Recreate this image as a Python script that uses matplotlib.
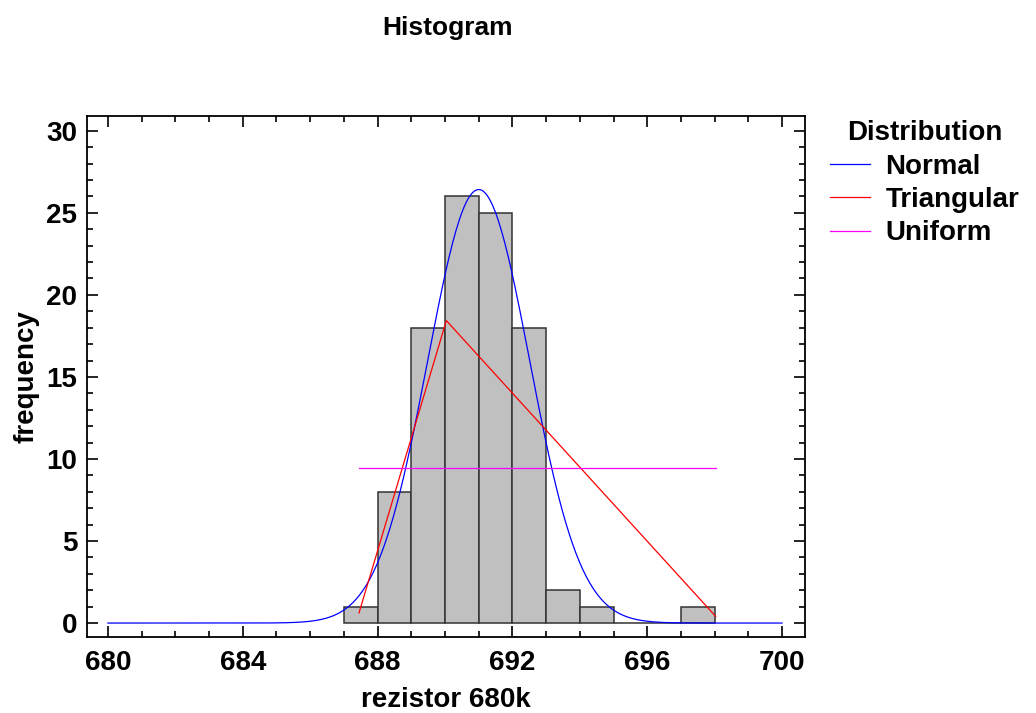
import numpy as np
import matplotlib.pyplot as plt
from matplotlib.ticker import MultipleLocator

plt.rcParams['font.family'] = ['Liberation Sans', 'DejaVu Sans']
plt.rcParams['font.weight'] = 'bold'

# histogram counts, bin width 1
bin_left = [687, 688, 689, 690, 691, 692, 693, 694, 695, 696, 697]
counts = [1, 8, 18, 26, 25, 18, 2, 1, 0, 0, 1]
n_total = sum(counts)

# fitted distributions
norm_mean, norm_sd = 691.0, 1.51
tri_a, tri_c, tri_b = 687.36, 690.04, 698.21
data_min, data_max = 687.45, 698.03

# Normal curve across whole axis
xn = np.linspace(680, 700, 400)
yn = n_total / (norm_sd * np.sqrt(2 * np.pi)) * np.exp(-0.5 * ((xn - norm_mean) / norm_sd) ** 2)

# Triangular curve over data range
xt = np.array([data_min, tri_c, data_max])
yt = np.where(xt <= tri_c,
              2 * n_total * (xt - tri_a) / ((tri_b - tri_a) * (tri_c - tri_a)),
              2 * n_total * (tri_b - xt) / ((tri_b - tri_a) * (tri_b - tri_c)))

# Uniform
xu = np.array([data_min, data_max])
yu = np.full(2, n_total / (data_max - data_min))

fig = plt.figure(figsize=(10.36, 7.13), dpi=100)
ax = fig.add_axes([87 / 1036, 1 - 637 / 713, (805 - 87) / 1036, (637 - 116) / 713])

ax.bar(bin_left, counts, width=1, align='edge', color='#c0c0c0', edgecolor='#333333', linewidth=1.1, zorder=1)
ax.plot(xn, yn, color='#0000ff', lw=0.9, label='Normal', zorder=3)
ax.plot(xt, yt, color='#ff0000', lw=0.9, label='Triangular', zorder=3)
ax.plot(xu, yu, color='#ff00ff', lw=0.9, label='Uniform', zorder=3)

ax.set_xlim(679.38, 700.68)
ax.set_ylim(-0.85, 30.9)
ax.xaxis.set_major_locator(MultipleLocator(4))
ax.xaxis.set_minor_locator(MultipleLocator(1))
ax.yaxis.set_major_locator(MultipleLocator(5))
ax.yaxis.set_minor_locator(MultipleLocator(1))
ax.tick_params(which='both', direction='in', top=True, right=True, width=1.2, labelsize=20)
ax.tick_params(which='major', length=8)
ax.tick_params(which='minor', length=4.5)
ax.tick_params(axis='x', pad=9)
ax.tick_params(axis='y', pad=7)
for s in ax.spines.values():
    s.set_linewidth(1.3)

ax.set_xlabel('rezistor 680k', fontsize=20, fontweight='bold', labelpad=8)
ax.set_ylabel('frequency', fontsize=20, fontweight='bold', labelpad=5)

fig.text(448 / 1036, 1 - 28 / 713, 'Histogram', ha='center', va='center', fontsize=19, fontweight='bold')

leg = fig.legend(loc='upper left', bbox_to_anchor=(830 / 1036, 1 - 120 / 713), frameon=False,
                 title='Distribution', fontsize=20, title_fontsize=20, handlelength=1.45,
                 handletextpad=0.55, labelspacing=0.27, borderpad=0, borderaxespad=0)
leg.get_title().set_fontweight('bold')

fig.savefig('out.png', dpi=100)
